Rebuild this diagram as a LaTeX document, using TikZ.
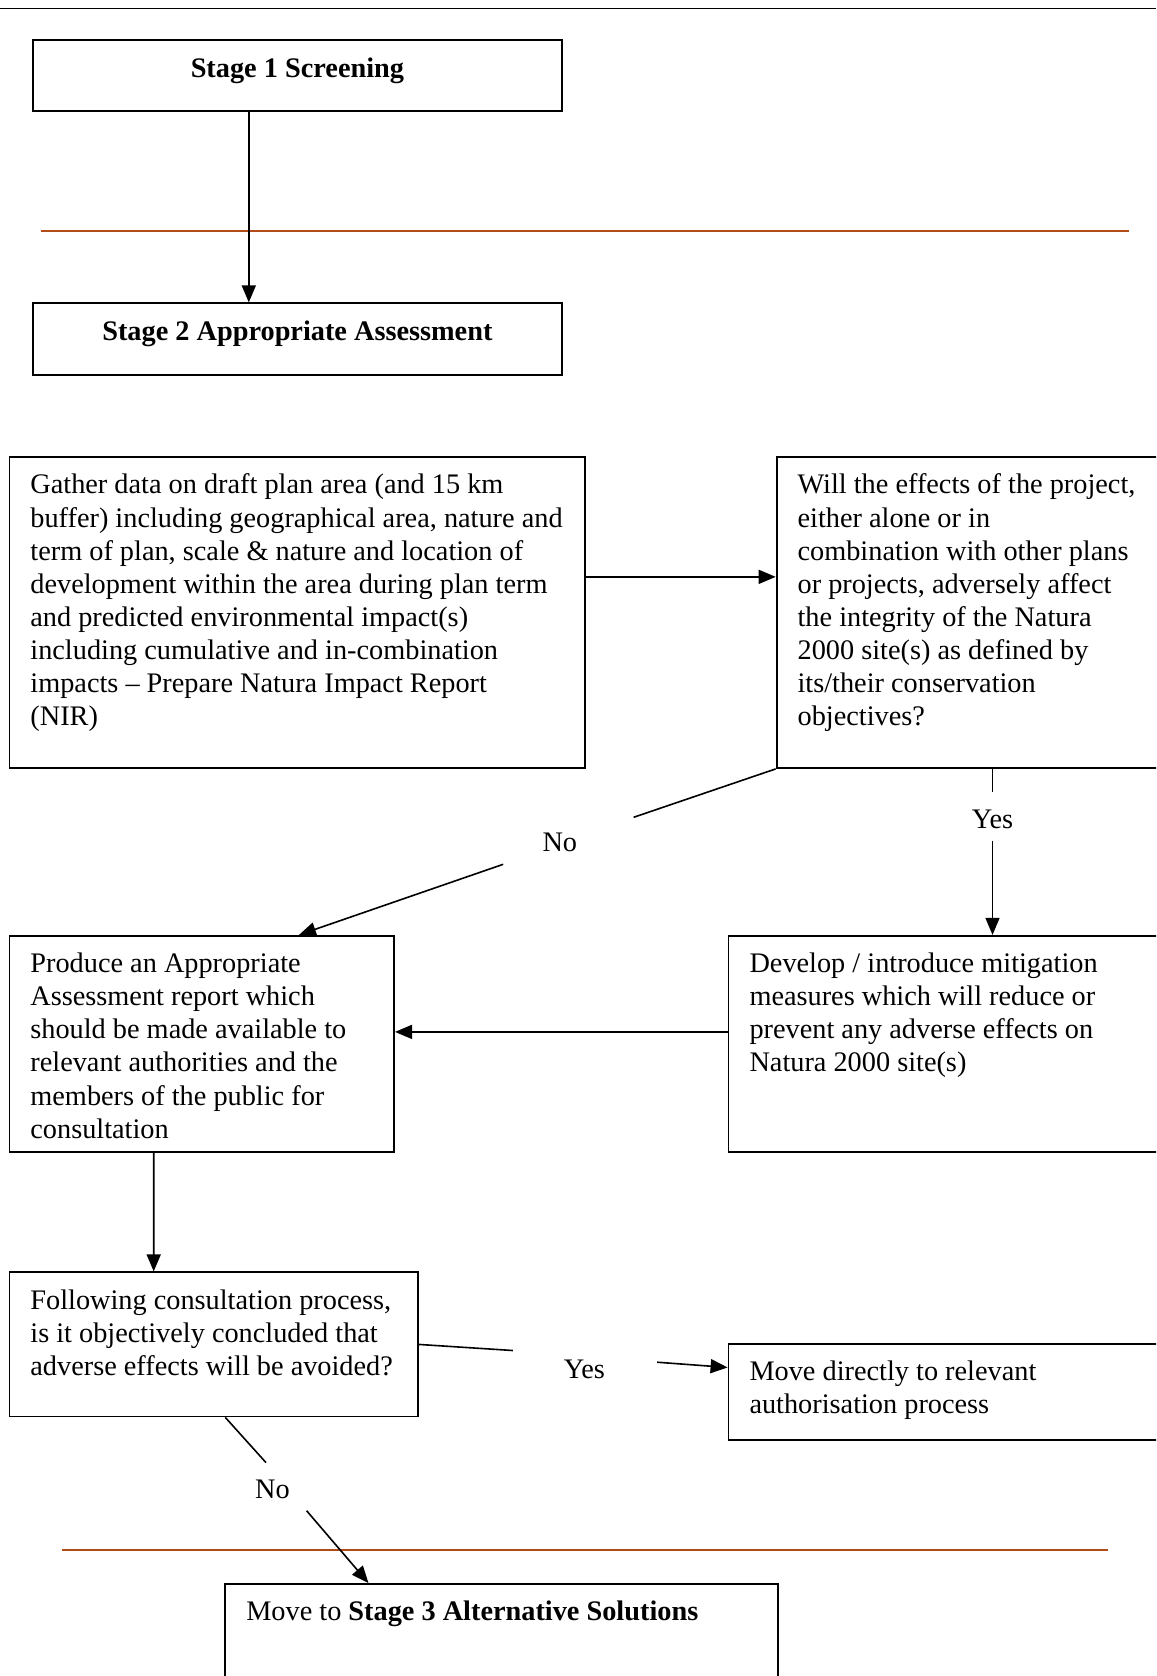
\documentclass[tikz,border=0pt]{standalone}
\usepackage{fontspec}
\setmainfont{Liberation Serif}
\usetikzlibrary{arrows.meta,calc}
\newcommand{\fs}{\fontsize{28.3bp}{33.1bp}\selectfont}
\newcommand{\topstrut}{\rule{0pt}{26.8bp}}
\newcommand{\bxt}[3]{\parbox[t][#2][t]{#1}{\raggedright\topstrut #3}}
\newcommand{\bxc}[3]{\parbox[t][#2][t]{#1}{\centering\topstrut #3}}
\definecolor{rust}{RGB}{180,76,26}
\begin{document}
\begin{tikzpicture}[x=1bp,y=-1bp,
  box/.style={draw,line width=1.8bp,inner xsep=21bp,inner ysep=10bp,anchor=north west,font=\fs},
  ln/.style={line width=1.6bp},
  arr/.style={line width=1.6bp,-{Triangle[length=17bp,width=14bp]}},
  lbl/.style={font=\fs,inner sep=0pt},
  rustline/.style={draw=rust,line width=2bp}]
\useasboundingbox (0,0) rectangle (1156,1676);
\clip (0,0) rectangle (1156,1676);
\fill[white] (0,0) rectangle (1156,1676);
% page rules
\draw[line width=1.5bp] (0,8.3) -- (1156,8.3);
\draw[rustline] (40.6,230.8) -- (1129.3,230.8);
\draw[rustline] (62,1549.5) -- (1107.9,1549.5);
% boxes
\node[box] (s1) at (32.1,39.5) {\bxc{486.8bp}{50.5bp}{\textbf{Stage 1 Screening}}};
\node[box] (s2) at (32.1,302.4) {\bxc{486.8bp}{51.5bp}{\textbf{Stage 2 Appropriate Assessment}}};
\node[box] (gather) at (8.5,456.2) {\bxt{533.9bp}{290.9bp}{Gather data on draft plan area (and 15 km\\
buffer) including geographical area, nature and\\
term of plan, scale \& nature and location of\\
development within the area during plan term\\
and predicted environmental impact(s)\\
including cumulative and in-combination\\
impacts – Prepare Natura Impact Report\\
(NIR)}};
\node[box] (will) at (775.7,456.2) {\bxt{382.3bp}{290.9bp}{Will the effects of the project,\\
either alone or in\\
combination with other plans\\
or projects, adversely affect\\
the integrity of the Natura\\
2000 site(s) as defined by\\
its/their conservation\\
objectives?}};
\node[box] (produce) at (8.5,934.9) {\bxt{342.7bp}{195.8bp}{Produce an Appropriate\\
Assessment report which\\
should be made available to\\
relevant authorities and the\\
members of the public for\\
consultation}};
\node[box] (develop) at (727.6,934.9) {\bxt{430.4bp}{195.8bp}{Develop / introduce mitigation\\
measures which will reduce or\\
prevent any adverse effects on\\
Natura 2000 site(s)}};
\node[box] (following) at (8.5,1271.4) {\bxt{366.2bp}{124.2bp}{Following consultation process,\\
is it objectively concluded that\\
adverse effects will be avoided?}};
\node[box] (move) at (727.6,1343.0) {\bxt{430.4bp}{76.1bp}{Move directly to relevant\\
authorisation process}};
\node[box] (stage3) at (224.4,1583) {\bxt{510.3bp}{117bp}{Move to \textbf{Stage 3 Alternative Solutions}}};
% labels
\node[lbl] (yes1) at (992.5,819.4) {Yes};
\node[lbl] (no1) at (559.8,841.9) {No};
\node[lbl] (yes2) at (584.4,1369.7) {Yes};
\node[lbl] (no2) at (272.4,1489.3) {No};
% break points
\coordinate (n1a) at (633.6,817.3);
\coordinate (n1b) at (503.2,864.3);
\coordinate (y2a) at (512.8,1350.5);
\coordinate (y2b) at (657.1,1362.2);
\coordinate (n2a) at (266.0,1462.6);
\coordinate (n2b) at (306.6,1510.7);
% connectors
\draw[arr] ([xshift=-48.6bp]s1.south) -- ([xshift=-48.6bp]s2.north);
\draw[arr] ([yshift=35.7bp]gather.east) -- ([yshift=35.7bp]will.west);
\draw[ln] (will.south -| yes1) -- ++(0,23.5);
\draw[arr] ([yshift=-21.4bp]yes1.center) -- (yes1 |- develop.north);
\draw[ln] (will.south west) -- (n1a);
\draw[arr] (n1b) -- ([xshift=97.2bp]produce.north);
\draw[arr] ([yshift=11.8bp]develop.west) -- ([yshift=11.8bp]produce.east);
\draw[arr] ([xshift=-48bp]produce.south) -- ([xshift=-59.8bp]following.north);
\draw[ln] (following.east) -- (y2a);
\draw[arr] (y2b) -- ([yshift=24.5bp]move.west);
\draw[ln] ([xshift=11.8bp]following.south) -- (n2a);
\draw[arr] (n2b) -- ([xshift=-133bp]stage3.north);
\end{tikzpicture}
\end{document}
